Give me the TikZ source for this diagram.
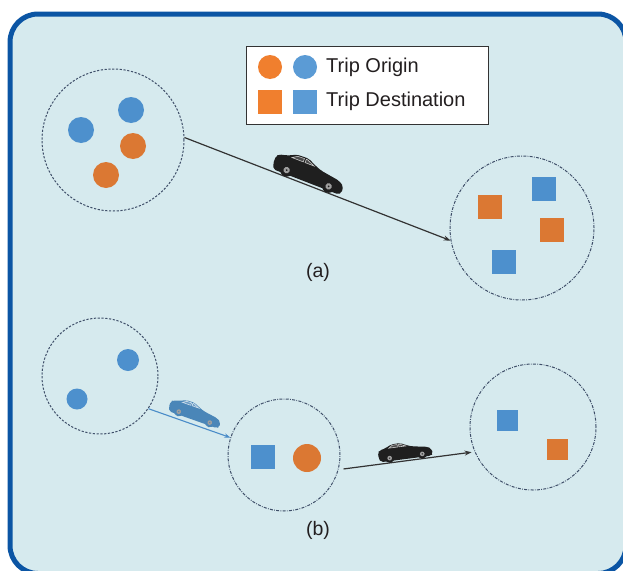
\documentclass[tikz,border=0pt]{standalone}
\usepackage{fontspec}
\setmainfont{Liberation Sans}
\usetikzlibrary{arrows.meta,calc}
\definecolor{bgfill}{HTML}{D6EAEE}
\definecolor{framec}{HTML}{0B55A4}
\definecolor{ringc}{HTML}{3F4F69}
\definecolor{orgc}{HTML}{F07F2E}
\definecolor{orgd}{HTML}{DB7833}
\definecolor{bluec}{HTML}{5B9BD5}
\definecolor{blued}{HTML}{4D90CD}
\definecolor{linec}{HTML}{333333}
\definecolor{carblue}{HTML}{4A86B8}
\definecolor{arrowblue}{HTML}{4A8CC8}
\definecolor{textc}{HTML}{231F20}
\tikzset{
  region/.style={circle, draw=ringc, line width=1pt, dash pattern=on 2.2pt off 1.6pt, inner sep=0pt},
  regiondd/.style={circle, draw=ringc, line width=1pt, dash pattern=on 3pt off 1.3pt on 0.8pt off 1.3pt, inner sep=0pt},
  odot/.style={circle, fill=orgd, minimum size=26pt, inner sep=0pt},
  bdot/.style={circle, fill=blued, minimum size=26pt, inner sep=0pt},
  osq/.style={rectangle, fill=orgd, minimum size=24pt, inner sep=0pt},
  bsq/.style={rectangle, fill=blued, minimum size=24pt, inner sep=0pt},
  flow/.style={draw=linec, line width=1.2pt, -{Stealth[length=7pt,width=5pt]}},
  lbl/.style={font=\fontsize{19.5}{23}\selectfont, text=textc, inner sep=0pt},
  legtext/.style={font=\fontsize{20}{24}\selectfont, text=textc, anchor=west, inner sep=0pt},
  pics/car/.style={code={
    \begin{scope}[y=1pt]
      \fill[#1, rounded corners=2pt] (-35,2.5) -- (-37.5,8) -- (-37.5,16) -- (-35,18.5) -- (-27,20.5) -- (-18,24.8) -- (-6,25.2) -- (3,21) -- (10,18.5) -- (30,15.5) -- (36,12) -- (37,5) -- (34,2.5) -- cycle;
      \filldraw[fill=white!20!#1, draw=white!75!#1, line width=0.6pt] (-22,20.2) -- (-17,23.4) -- (-10,23.7) -- (-10,20.2) -- cycle;
      \filldraw[fill=white!20!#1, draw=white!75!#1, line width=0.6pt] (-8,20.2) -- (-8,23.7) -- (-6.5,23.7) -- (1.5,20.2) -- cycle;
      \fill[#1] (-22.5,6.5) circle (6.5) (22.5,6.5) circle (6.5);
      \fill[gray!75] (-22.5,6.5) circle (3.2) (22.5,6.5) circle (3.2);
      \fill[#1] (-22.5,6.5) circle (1) (22.5,6.5) circle (1);
    \end{scope}
  }}
}
\begin{document}
\begin{tikzpicture}[x=1pt, y=-1pt]
  \useasboundingbox (0,0) rectangle (623,570);
  \clip (0,0) rectangle (623,570);
  % frame
  \draw[draw=framec, fill=bgfill, line width=5pt, rounded corners=28pt] (10,14) rectangle (626,573.5);

  % legend
  \node[draw=linec, fill=white, line width=1pt, minimum width=242pt, minimum height=78pt, inner sep=0pt] (legend) at (367,85) {};
  \node[odot, fill=orgc, minimum size=24pt] (lo) at (270,67) {};
  \node[bdot, fill=bluec, minimum size=24pt] (lb) at (305,67) {};
  \node[osq, fill=orgc] (lso) at (270,102) {};
  \node[bsq, fill=bluec] (lsb) at (305,102) {};
  \node[legtext] (lt1) at (326,67) {Trip Origin};
  \node[legtext] (lt2) at (326,101) {Trip Destination};

  % (a)
  \node[region, minimum size=142pt] (A) at (113,140) {};
  \node[bdot] (a1) at (81,130) {};
  \node[bdot] (a2) at (131,110) {};
  \node[odot] (a3) at (133,146) {};
  \node[odot] (a4) at (106,175) {};

  \node[regiondd, minimum size=144pt] (B) at (522,228) {};
  \node[osq] (b1) at (490,207) {};
  \node[bsq] (b2) at (544,189) {};
  \node[osq] (b3) at (552,230) {};
  \node[bsq] (b4) at (504,262) {};

  \draw[flow] (A.2) -- (B.190);
  \pic[rotate=-21.1] at ($(A.2)!0.454!(B.190)$) {car=black!88};
  \node[lbl] (la) at (318,272) {(a)};

  % (b)
  \node[region, minimum size=116pt] (C) at (100,376) {};
  \node[bdot, minimum size=22pt] (c1) at (128,360) {};
  \node[bdot, minimum size=21pt] (c2) at (77,399) {};

  \node[regiondd, minimum size=112pt] (D) at (284,455) {};
  \node[bsq] (d1) at (263,457) {};
  \node[odot, minimum size=28pt] (d2) at (307,458) {};

  \node[regiondd, minimum size=126pt] (E) at (533,427) {};
  \node[bsq, minimum size=21pt] (e1) at (507,420) {};
  \node[osq, minimum size=21pt] (e2) at (557,449) {};

  \draw[flow, draw=arrowblue, line width=1.1pt, -{Stealth[length=6pt,width=4.5pt]}] (C.-34) -- (D.162);
  \pic[rotate=-19.5, scale=0.73, yshift=3.5pt] at ($(C.-34)!0.53!(D.162)$) {car=carblue};

  \draw[flow, shorten <=5pt, shorten >=3pt] (D.-15) -- (E.203);
  \pic[rotate=7.4, scale=0.73] at ($(D.-15)!0.5!(E.203)$) {car=black!88};

  \node[lbl] (lbb) at (318,530) {(b)};
\end{tikzpicture}
\end{document}
